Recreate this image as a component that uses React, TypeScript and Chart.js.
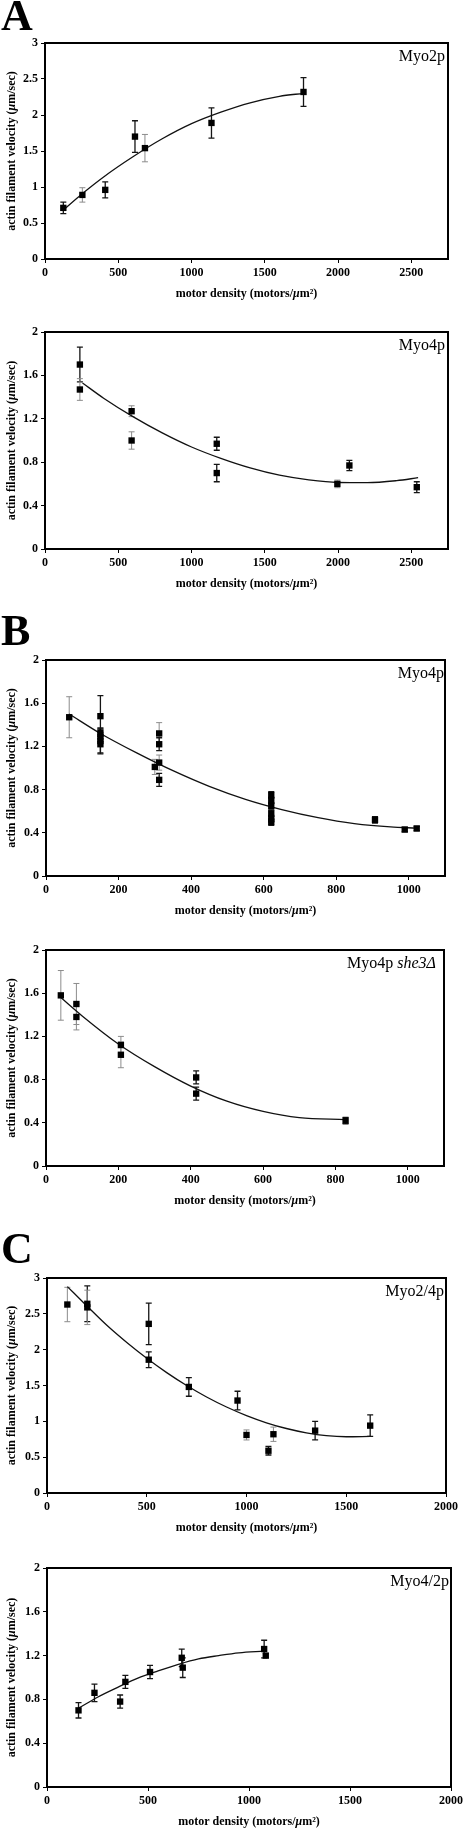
import React, { useEffect, useRef } from "react";
import { Chart, registerables } from "chart.js";
Chart.register(...registerables);

// ---------- Panel A, top: Myo2p ----------
const a1X = [125, 255, 411, 614, 682, 1136, 1764];
const a1Y = [0.71, 0.89, 0.96, 1.7, 1.54, 1.89, 2.32];
const a1Err = [0.08, 0.1, 0.11, 0.22, 0.19, 0.21, 0.2];
const a1Gray = [0, 1, 0, 0, 1, 0, 0];
const a1FitX = [125, 250, 400, 600, 800, 1000, 1200, 1400, 1600, 1764];
const a1FitY = [0.68, 0.9, 1.14, 1.42, 1.67, 1.88, 2.04, 2.17, 2.26, 2.3];

// ---------- Panel A, bottom: Myo4p ----------
const a2X = [238, 238, 591, 591, 1172, 1172, 1995, 2077, 2537];
const a2Y = [1.7, 1.47, 1.27, 1.0, 0.97, 0.7, 0.6, 0.77, 0.57];
const a2Err = [0.16, 0.1, 0.05, 0.08, 0.06, 0.08, 0.035, 0.047, 0.05];
const a2Gray = [0, 1, 1, 1, 0, 0, 1, 0, 0];
const a2FitX = [256, 400, 600, 800, 1000, 1200, 1400, 1600, 1800, 2000, 2200, 2400, 2546];
const a2FitY = [1.53, 1.39, 1.22, 1.07, 0.94, 0.835, 0.747, 0.68, 0.637, 0.613, 0.611, 0.63, 0.657];

// ---------- Panel B, top: Myo4p ----------
const b1X = [64, 150, 150, 150, 150, 150, 300, 312, 312, 312, 312, 621, 621, 621, 621, 621, 621, 907, 989, 1022];
const b1Y = [1.47, 1.48, 1.33, 1.29, 1.25, 1.22, 1.01, 1.32, 1.22, 1.05, 0.89, 0.75, 0.7, 0.65, 0.58, 0.53, 0.5, 0.52, 0.43, 0.44];
const b1Err = [0.19, 0.19, 0.04, 0.04, 0.12, 0.08, 0.07, 0.1, 0.06, 0.07, 0.06, 0.03, 0.03, 0.03, 0.03, 0.03, 0.03, 0.03, 0.02, 0.02];
const b1Gray = [1, 0, 0, 0, 0, 0, 1, 1, 0, 1, 0, 0, 0, 0, 0, 0, 0, 0, 0, 0];
const b1FitX = [64, 150, 250, 350, 450, 550, 650, 750, 850, 950, 1021];
const b1FitY = [1.5, 1.32, 1.14, 0.975, 0.83, 0.71, 0.615, 0.54, 0.485, 0.454, 0.444];

// ---------- Panel B, bottom: Myo4p she3Δ ----------
const b2X = [41, 84, 84, 207, 207, 415, 415, 828];
const b2Y = [1.58, 1.5, 1.38, 1.12, 1.03, 0.82, 0.67, 0.42];
const b2Err = [0.23, 0.19, 0.12, 0.08, 0.12, 0.06, 0.06, 0.03];
const b2Gray = [1, 1, 1, 1, 1, 0, 0, 0];
const b2FitX = [41, 100, 200, 300, 400, 500, 600, 700, 828];
const b2FitY = [1.56, 1.39, 1.13, 0.92, 0.74, 0.6, 0.505, 0.447, 0.43];

// ---------- Panel C, top: Myo2/4p ----------
const c1X = [102, 202, 202, 510, 510, 711, 955, 1000, 1110, 1135, 1344, 1620];
const c1Y = [2.63, 2.64, 2.59, 2.36, 1.86, 1.48, 1.29, 0.81, 0.59, 0.82, 0.87, 0.94];
const c1Err = [0.24, 0.25, 0.24, 0.29, 0.11, 0.13, 0.13, 0.07, 0.06, 0.1, 0.13, 0.15];
const c1Gray = [1, 0, 1, 0, 0, 0, 0, 1, 0, 1, 0, 0];
const c1FitX = [102, 200, 300, 400, 500, 600, 700, 800, 900, 1000, 1100, 1200, 1300, 1400, 1500, 1620];
const c1FitY = [2.88, 2.61, 2.34, 2.1, 1.88, 1.68, 1.5, 1.34, 1.2, 1.08, 0.98, 0.9, 0.84, 0.8, 0.785, 0.79];

// ---------- Panel C, bottom: Myo4/2p ----------
const c2X = [156, 235, 362, 388, 510, 667, 672, 1075, 1083];
const c2Y = [0.7, 0.86, 0.78, 0.96, 1.05, 1.18, 1.09, 1.26, 1.2];
const c2Err = [0.07, 0.08, 0.06, 0.06, 0.06, 0.08, 0.09, 0.08, 0.02];
const c2Gray = [0, 0, 0, 0, 0, 0, 0, 0, 1];
const c2FitX = [156, 250, 350, 450, 550, 650, 750, 850, 950, 1075];
const c2FitY = [0.72, 0.82, 0.91, 0.995, 1.06, 1.12, 1.17, 1.2, 1.225, 1.24];

// axis ranges and tick labels
const xMaxA = 2750;
const xTicksA = [0, 500, 1000, 1500, 2000, 2500];
const xMaxB = 1100;
const xTicksB = [0, 200, 400, 600, 800, 1000];
const xMaxC = 2000;
const xTicksC = [0, 500, 1000, 1500, 2000];
const yMax3 = 3;
const yTicks3 = [0, 0.5, 1, 1.5, 2, 2.5, 3];
const yMax2 = 2;
const yTicks2 = [0, 0.4, 0.8, 1.2, 1.6, 2];

type Seg = { t: string; s: string };
const SERIF = '"Liberation Serif", "Times New Roman", serif';

const xTitle: Seg[] = [
  { t: "motor density (motors/", s: "bold" },
  { t: "\u03bc", s: "italic bold" },
  { t: "m\u00b2)", s: "bold" },
];
const yTitle: Seg[] = [
  { t: "actin filament velocity (", s: "bold" },
  { t: "\u03bc", s: "italic bold" },
  { t: "m/sec)", s: "bold" },
];

type Panel = {
  xs: number[]; ys: number[]; err: number[]; gray: number[];
  fitX: number[]; fitY: number[];
  xMax: number; xTicks: number[]; yMax: number; yTicks: number[];
  left: number; right: number; top: number; bottom: number;
  label: Seg[]; labelInset: number;
};

const panels: Panel[] = [
  { xs: a1X, ys: a1Y, err: a1Err, gray: a1Gray, fitX: a1FitX, fitY: a1FitY, xMax: xMaxA, xTicks: xTicksA, yMax: yMax3, yTicks: yTicks3,
    left: 45, right: 448, top: 43, bottom: 259, label: [{ t: "Myo2p", s: "" }], labelInset: 3 },
  { xs: a2X, ys: a2Y, err: a2Err, gray: a2Gray, fitX: a2FitX, fitY: a2FitY, xMax: xMaxA, xTicks: xTicksA, yMax: yMax2, yTicks: yTicks2,
    left: 45, right: 448, top: 332, bottom: 549, label: [{ t: "Myo4p", s: "" }], labelInset: 3 },
  { xs: b1X, ys: b1Y, err: b1Err, gray: b1Gray, fitX: b1FitX, fitY: b1FitY, xMax: xMaxB, xTicks: xTicksB, yMax: yMax2, yTicks: yTicks2,
    left: 46, right: 445, top: 660, bottom: 876, label: [{ t: "Myo4p", s: "" }], labelInset: 1 },
  { xs: b2X, ys: b2Y, err: b2Err, gray: b2Gray, fitX: b2FitX, fitY: b2FitY, xMax: xMaxB, xTicks: xTicksB, yMax: yMax2, yTicks: yTicks2,
    left: 46, right: 444, top: 950, bottom: 1166, label: [{ t: "Myo4p ", s: "" }, { t: "she3\u0394", s: "italic" }], labelInset: 8 },
  { xs: c1X, ys: c1Y, err: c1Err, gray: c1Gray, fitX: c1FitX, fitY: c1FitY, xMax: xMaxC, xTicks: xTicksC, yMax: yMax3, yTicks: yTicks3,
    left: 47, right: 446, top: 1278, bottom: 1493, label: [{ t: "Myo2/4p", s: "" }], labelInset: 2 },
  { xs: c2X, ys: c2Y, err: c2Err, gray: c2Gray, fitX: c2FitX, fitY: c2FitY, xMax: xMaxC, xTicks: xTicksC, yMax: yMax2, yTicks: yTicks2,
    left: 47, right: 452, top: 1568, bottom: 1787, label: [{ t: "Myo4/2p", s: "" }], labelInset: 2 },
];

const PAD_TOP = 15;
const X_AXIS_H = 55;
const W = 466;

function drawSegs(ctx: CanvasRenderingContext2D, segs: Seg[], x: number, y: number, align: string, size: number) {
  const fonts = segs.map((s) => `${s.s} ${size}px ${SERIF}`.trim());
  let total = 0;
  const widths = segs.map((s, i) => {
    ctx.font = fonts[i];
    const w = ctx.measureText(s.t).width;
    total += w;
    return w;
  });
  let cx = align === "center" ? x - total / 2 : align === "right" ? x - total : x;
  ctx.textAlign = "left";
  segs.forEach((s, i) => {
    ctx.font = fonts[i];
    ctx.fillText(s.t, cx, y);
    cx += widths[i];
  });
}

function makeDecor(p: Panel) {
  return {
    id: "decor",
    beforeDatasetsDraw(chart: any) {
      const { ctx } = chart;
      const xs = chart.scales.x, ys = chart.scales.y;
      ctx.save();
      p.xs.forEach((xv, i) => {
        const px = xs.getPixelForValue(xv);
        const t = ys.getPixelForValue(p.ys[i] + p.err[i]);
        const b = ys.getPixelForValue(p.ys[i] - p.err[i]);
        ctx.strokeStyle = p.gray[i] ? "#8c8c8c" : "#151515";
        ctx.lineWidth = p.gray[i] ? 1 : 1.3;
        ctx.beginPath();
        ctx.moveTo(px, t); ctx.lineTo(px, b);
        ctx.moveTo(px - 3, t); ctx.lineTo(px + 3, t);
        ctx.moveTo(px - 3, b); ctx.lineTo(px + 3, b);
        ctx.stroke();
      });
      ctx.restore();
    },
    afterDraw(chart: any) {
      const { ctx, chartArea: a } = chart;
      ctx.save();
      ctx.strokeStyle = "#000";
      ctx.lineWidth = 2;
      ctx.strokeRect(a.left, a.top, a.right - a.left, a.bottom - a.top);
      ctx.fillStyle = "#000";
      ctx.textBaseline = "middle";
      drawSegs(ctx, xTitle, (a.left + a.right) / 2, a.bottom + 35, "center", 12);
      ctx.save();
      ctx.translate(12, (a.top + a.bottom) / 2);
      ctx.rotate(-Math.PI / 2);
      drawSegs(ctx, yTitle, 0, 0, "center", 12);
      ctx.restore();
      ctx.textBaseline = "alphabetic";
      drawSegs(ctx, p.label, a.right - p.labelInset, a.top + 17.5, "right", 16);
      ctx.restore();
    },
  };
}

function PanelChart({ p }: { p: Panel }) {
  const ref = useRef<HTMLCanvasElement | null>(null);
  const H = PAD_TOP + (p.bottom - p.top) + X_AXIS_H;
  useEffect(() => {
    if (!ref.current) return;
    const tickFont = { family: SERIF, size: 12, weight: "bold" as const };
    const chart = new Chart(ref.current, {
      type: "scatter",
      data: {
        datasets: [
          {
            data: p.xs.map((x, i) => ({ x, y: p.ys[i] })),
            pointStyle: "rect",
            pointRadius: 4.5,
            pointHoverRadius: 4.5,
            pointBackgroundColor: "#000",
            pointBorderWidth: 0,
            showLine: false,
          },
          {
            data: p.fitX.map((x, i) => ({ x, y: p.fitY[i] })),
            showLine: true,
            pointRadius: 0,
            borderColor: "#111",
            borderWidth: 1.3,
            cubicInterpolationMode: "monotone",
            fill: false,
          },
        ],
      },
      options: {
        responsive: false,
        animation: false,
        events: [],
        layout: { padding: { top: PAD_TOP, right: W - p.right, left: 0, bottom: 0 } },
        plugins: { legend: { display: false }, tooltip: { enabled: false } },
        scales: {
          x: {
            type: "linear",
            min: 0,
            max: p.xMax,
            bounds: "data",
            grid: { display: true, drawOnChartArea: false, drawTicks: true, tickLength: 4, color: "#000", lineWidth: 1 },
            border: { display: false },
            ticks: {
              autoSkip: false,
              maxRotation: 0,
              padding: 3,
              color: "#000",
              font: tickFont,
              callback: (v: any) => String(v),
            },
            afterBuildTicks: (s: any) => { s.ticks = p.xTicks.map((v) => ({ value: v })); },
            afterFit: (s: any) => { s.height = X_AXIS_H; },
          },
          y: {
            type: "linear",
            min: 0,
            max: p.yMax,
            bounds: "data",
            grid: { display: true, drawOnChartArea: false, drawTicks: true, tickLength: 4, color: "#000", lineWidth: 1 },
            border: { display: false },
            ticks: {
              autoSkip: false,
              padding: 3,
              color: "#000",
              font: tickFont,
              callback: (v: any) => String(Math.round(v * 10) / 10),
            },
            afterBuildTicks: (s: any) => { s.ticks = p.yTicks.map((v) => ({ value: v })); },
            afterFit: (s: any) => { s.width = p.left; },
          },
        },
      },
      plugins: [makeDecor(p)],
    } as any);
    return () => chart.destroy();
  }, [p]);
  return (
    <canvas
      ref={ref}
      width={W}
      height={H}
      style={{ position: "absolute", left: 0, top: p.top - PAD_TOP, width: W, height: H }}
    />
  );
}

const letters = [
  { t: "A", top: -6 },
  { t: "B", top: 609 },
  { t: "C", top: 1227 },
];

export default function App() {
  return (
    <div style={{ position: "absolute", left: 0, top: 0, width: W, height: 1829, background: "#fff", overflow: "hidden" }}>
      {panels.map((p, i) => (
        <PanelChart key={i} p={p} />
      ))}
      {letters.map((l) => (
        <div
          key={l.t}
          style={{
            position: "absolute",
            left: 1,
            top: l.top,
            fontFamily: SERIF,
            fontWeight: "bold",
            fontSize: 44,
            lineHeight: 1,
            color: "#000",
          }}
        >
          {l.t}
        </div>
      ))}
    </div>
  );
}
